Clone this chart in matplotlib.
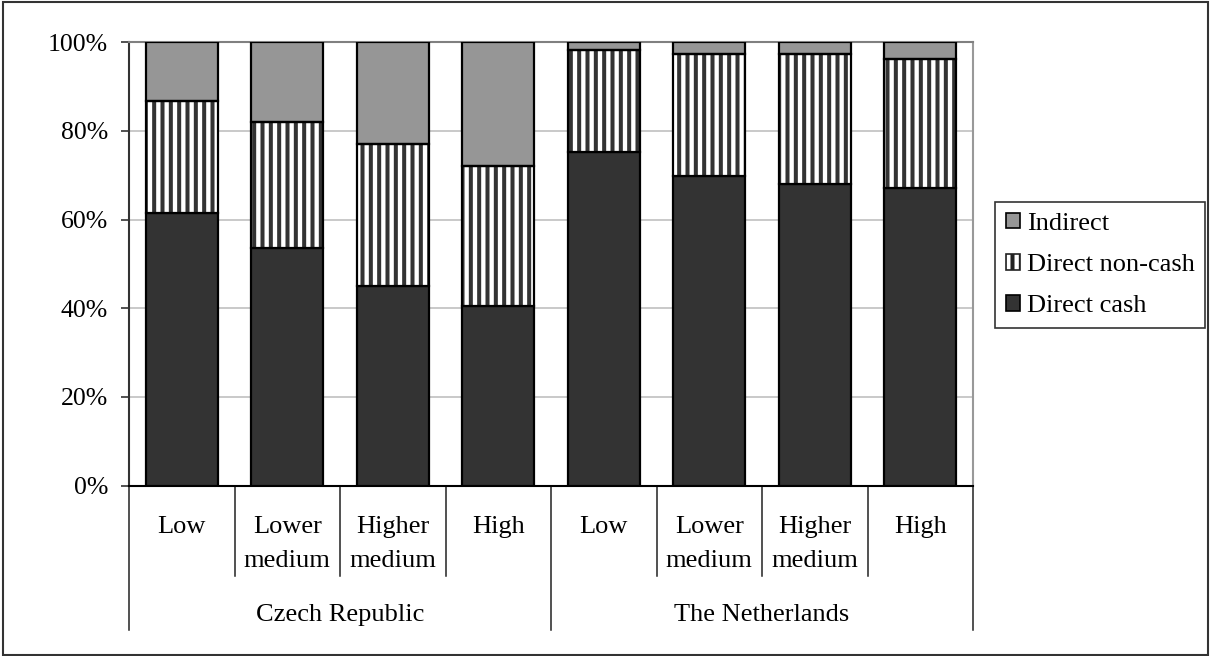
import matplotlib
matplotlib.use("Agg")
import matplotlib.pyplot as plt
from matplotlib.patches import Patch, Rectangle
from matplotlib.ticker import FuncFormatter

# Shares of support by income group (percent of total)
countries = ["Czech Republic", "The Netherlands"]
income_groups = ["Low", "Lower\nmedium", "Higher\nmedium", "High"]
direct_cash = [61.4, 53.7, 45.1, 40.6, 75.2, 69.9, 68.1, 67.2]
direct_noncash = [25.3, 28.4, 32.0, 31.6, 23.1, 27.4, 29.2, 29.1]
indirect = [13.3, 17.9, 22.9, 27.8, 1.7, 2.7, 2.7, 3.7]
y_ticks = [0, 20, 40, 60, 80, 100]

plt.rcParams["font.family"] = ["Liberation Serif", "DejaVu Serif"]
plt.rcParams["hatch.linewidth"] = 2.9
FS = 19

W, H = 1211, 656
fig = plt.figure(figsize=(W / 100, H / 100), dpi=100)
ax_left, ax_right, ax_top, ax_bot = 129, 973, 42.3, 485.5
ax = fig.add_axes([ax_left / W, (H - ax_bot) / H,
                   (ax_right - ax_left) / W, (ax_bot - ax_top) / H])

n = len(direct_cash)
xs = list(range(n))
bw = 0.68

CASH = "#333333"
IND = "#969696"

bottom2 = [c + d for c, d in zip(direct_cash, direct_noncash)]
ax.bar(xs, direct_cash, width=bw, color=CASH, edgecolor="black", linewidth=1.6, zorder=3)
ax.bar(xs, direct_noncash, width=bw, bottom=direct_cash, color="white",
       edgecolor="#333333", hatch="||", linewidth=0, zorder=3)
ax.bar(xs, direct_noncash, width=bw, bottom=direct_cash, facecolor="none",
       edgecolor="black", linewidth=1.6, zorder=4)
ax.bar(xs, indirect, width=bw, bottom=bottom2, color=IND, edgecolor="black",
       linewidth=1.6, zorder=3)

ax.set_xlim(-0.5, n - 0.5)
ax.set_ylim(0, 100)
ax.set_yticks(y_ticks)
ax.yaxis.set_major_formatter(FuncFormatter(lambda v, p: f"{int(v)}%"))
ax.tick_params(axis="y", direction="out", length=6, width=1.2, color="#333333",
               pad=9, labelsize=18.5)
ax.set_xticks([])

for yv in y_ticks[1:-1]:
    ax.axhline(yv, color="#c0c0c0", linewidth=1.2, zorder=1)

ax.spines["left"].set_color("#333333")
ax.spines["left"].set_linewidth(1.5)
ax.spines["bottom"].set_color("black")
ax.spines["bottom"].set_linewidth(1.5)
ax.spines["top"].set_color("#808080")
ax.spines["top"].set_linewidth(1.5)
ax.spines["right"].set_color("#999999")
ax.spines["right"].set_linewidth(1.5)

# Category axis: separators and two-level labels below the plot
span = ax_bot - ax_top
def ay(px):
    return (ax_bot - px) / span

trans = ax.get_xaxis_transform()
per = len(income_groups)
for i in range(n + 1):
    xb = i - 0.5
    outer = (i % per == 0)
    y_end = ay(630) if outer else ay(576)
    ax.plot([xb, xb], [0, y_end], transform=trans, color="#222222",
            linewidth=1.1, clip_on=False)

for g, country in enumerate(countries):
    for j, label in enumerate(income_groups):
        x = g * per + j
        for k, line in enumerate(label.split("\n")):
            ax.text(x, ay(533 + 34 * k), line, transform=trans, ha="center",
                    va="baseline", fontsize=FS)
    xc = g * per + (per - 1) / 2
    ax.text(xc, ay(621), country, transform=trans, ha="center",
            va="baseline", fontsize=FS)

# Legend
handles = [
    Patch(facecolor=IND, edgecolor="black", linewidth=1.2, label="Indirect"),
    Patch(facecolor="white", edgecolor="#222222", hatch="||", linewidth=1.2,
          label="Direct non-cash"),
    Patch(facecolor=CASH, edgecolor="black", linewidth=1.2, label="Direct cash"),
]
leg = fig.legend(handles=handles, loc="upper left",
                 bbox_to_anchor=(995 / W, (H - 202) / H), borderaxespad=0,
                 fontsize=FS, frameon=True, fancybox=False, handlelength=0.55,
                 handleheight=0.55, handletextpad=0.25, labelspacing=0.72,
                 borderpad=0.4)
leg.get_frame().set_edgecolor("black")
leg.get_frame().set_linewidth(1.2)

# Outer frame around the whole chart
fig.patches.append(Rectangle((3 / W, 1.5 / H), (1208 - 3) / W, (654.5 - 1.5) / H,
                             transform=fig.transFigure, fill=False,
                             edgecolor="#333333", linewidth=1.5))

fig.savefig("out.png", dpi=100)
